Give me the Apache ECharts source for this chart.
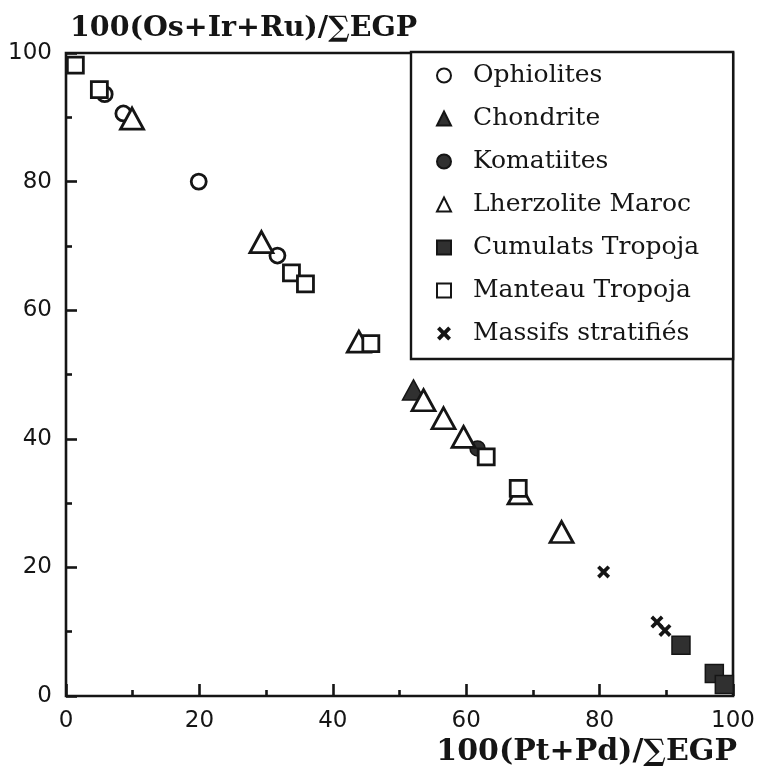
<!DOCTYPE html>
<html>
<head>
<meta charset="utf-8">
<script src="https://cdn.jsdelivr.net/npm/echarts@6/dist/echarts.min.js"></script>
<style>
html,body{margin:0;padding:0;background:#fff;}
#chart{width:760px;height:774px;}
</style>
</head>
<body>
<div id="chart"></div>
<script>
// Data: [100(Pt+Pd)/ΣEGP, 100(Os+Ir+Ru)/ΣEGP]
const ophiolites = [[5.8, 93.6], [8.6, 90.6], [19.9, 80.0], [31.7, 68.5]];
const komatiites = [[61.7, 38.5]];
const chondrite = [[52.1, 47.6]];
const lherzoliteMaroc = [[9.9, 89.8], [29.3, 70.6], [43.9, 55.1], [53.6, 46.0], [56.6, 43.2], [59.6, 40.3], [68.0, 31.5], [74.3, 25.5]];
const cumulatsTropoja = [[92.2, 7.9], [97.2, 3.5], [98.7, 1.8]];
const manteauTropoja = [[1.4, 98.1], [5.0, 94.3], [33.8, 65.8], [35.9, 64.1], [45.7, 54.8], [63.0, 37.2], [67.8, 32.3]];
const massifsStratifies = [[80.6, 19.3], [88.6, 11.5], [89.8, 10.2]];

const legendOrder = ['Ophiolites', 'Chondrite', 'Komatiites', 'Lherzolite Maroc', 'Cumulats Tropoja', 'Manteau Tropoja', 'Massifs stratifiés'];
const xTitle = '100(Pt+Pd)/∑EGP';
const yTitle = '100(Os+Ir+Ru)/∑EGP';

const INK = '#151515';
const FILL = '#303030';
const crossPath = 'path://M0,2 L2,0 L5,3 L8,0 L10,2 L7,5 L10,8 L8,10 L5,7 L2,10 L0,8 L3,5 Z';

function openStyle() { return { color: '#ffffff', borderColor: INK, borderWidth: 2.8, opacity: 1 }; }
function filledStyle() { return { color: FILL, borderColor: INK, borderWidth: 1.5, opacity: 1 }; }

const chart = echarts.init(document.getElementById('chart'), null, { renderer: 'canvas' });
chart.setOption({
  animation: false,
  backgroundColor: '#ffffff',
  title: [
    { text: yTitle, left: 70, top: 14, padding: 0,
      textStyle: { fontFamily: 'DejaVu Serif', fontWeight: 'bold', fontSize: 28.5, color: INK } },
    { text: xTitle, right: 23, top: 737, padding: 0,
      textStyle: { fontFamily: 'DejaVu Serif', fontWeight: 'bold', fontSize: 30, color: INK } }
  ],
  grid: { left: 66, right: 27, top: 53, bottom: 78, show: true, borderColor: INK, borderWidth: 2.6, backgroundColor: 'transparent' },
  legend: {
    data: legendOrder,
    orient: 'vertical',
    left: 411, top: 52,
    padding: [11, 34, 13, 25],
    itemGap: 18,
    itemWidth: 14, itemHeight: 14,
    backgroundColor: '#ffffff',
    borderColor: INK, borderWidth: 2.4,
    textStyle: { fontFamily: 'DejaVu Serif', fontSize: 25, color: INK, lineHeight: 25, padding: [0, 0, 0, 17] }
  },
  xAxis: {
    type: 'value', min: 0, max: 100, interval: 20,
    axisLine: { show: false },
    axisTick: { show: true, inside: true, length: 12, lineStyle: { color: INK, width: 2.6 } },
    minorTick: { show: true, splitNumber: 2, length: 6, lineStyle: { color: INK, width: 2.6 } },
    splitLine: { show: false },
    axisLabel: { margin: 14, fontFamily: 'DejaVu Sans', fontSize: 23, color: INK }
  },
  yAxis: {
    type: 'value', min: 0, max: 100, interval: 20,
    axisLine: { show: false },
    axisTick: { show: true, inside: true, length: 11, lineStyle: { color: INK, width: 2.6 } },
    minorTick: { show: true, splitNumber: 2, length: 6, lineStyle: { color: INK, width: 2.6 } },
    splitLine: { show: false },
    axisLabel: { margin: 14, fontFamily: 'DejaVu Sans', fontSize: 23, color: INK }
  },
  series: [
    { name: 'Ophiolites', type: 'scatter', data: ophiolites, symbol: 'circle', symbolSize: 15, itemStyle: openStyle(), z: 2 },
    { name: 'Komatiites', type: 'scatter', data: komatiites, symbol: 'circle', symbolSize: 15, itemStyle: filledStyle(), z: 3 },
    { name: 'Chondrite', type: 'scatter', data: chondrite, symbol: 'triangle', symbolSize: [22, 20], itemStyle: filledStyle(), z: 4 },
    { name: 'Lherzolite Maroc', type: 'scatter', data: lherzoliteMaroc, symbol: 'triangle', symbolSize: [23, 21], itemStyle: openStyle(), z: 5 },
    { name: 'Cumulats Tropoja', type: 'scatter', data: cumulatsTropoja, symbol: 'rect', symbolSize: 18, itemStyle: filledStyle(), z: 6 },
    { name: 'Manteau Tropoja', type: 'scatter', data: manteauTropoja, symbol: 'rect', symbolSize: 16, itemStyle: openStyle(), z: 7 },
    { name: 'Massifs stratifiés', type: 'scatter', data: massifsStratifies, symbol: crossPath, symbolSize: 13, itemStyle: { color: INK, opacity: 1 }, z: 8 }
  ]
});
</script>
</body>
</html>
